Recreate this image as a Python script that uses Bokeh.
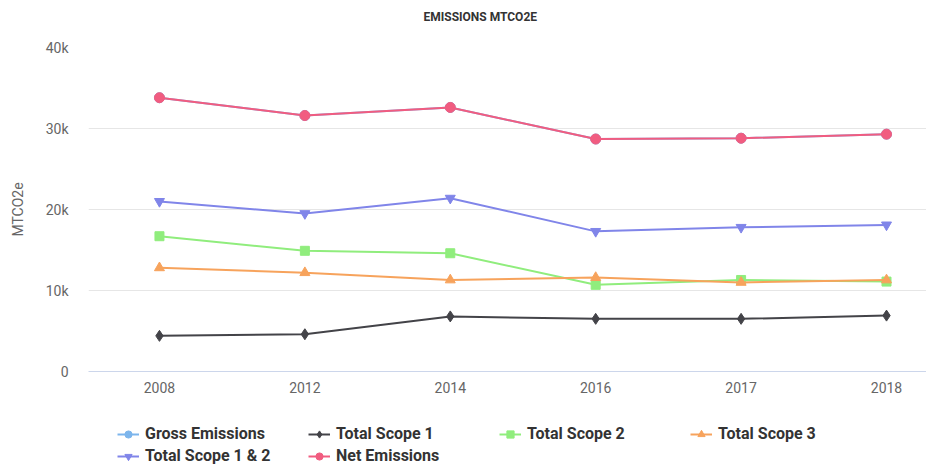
from bokeh.plotting import figure
from bokeh.models import Range1d, FixedTicker, Legend, LegendItem, Label
from bokeh.layouts import column
from bokeh.embed import file_html
from bokeh.resources import INLINE

years = ["2008", "2012", "2014", "2016", "2017", "2018"]
gross_emissions = [33800, 31600, 32600, 28700, 28800, 29300]
total_scope_1 = [4400, 4600, 6800, 6500, 6500, 6900]
total_scope_2 = [16700, 14900, 14600, 10700, 11300, 11100]
total_scope_3 = [12800, 12200, 11300, 11600, 11000, 11300]
total_scope_1_2 = [21000, 19500, 21400, 17300, 17800, 18100]
net_emissions = [33800, 31600, 32600, 28700, 28800, 29300]
y_ticks = [0, 10000, 20000, 30000, 40000]
y_tick_labels = ["0", "10k", "20k", "30k", "40k"]
chart_title = "EMISSIONS MTCO2E"

FONT = "Roboto"
xs = list(range(len(years)))
W = 926


def strip(height):
    f = figure(width=W, height=height, output_backend="svg", toolbar_location=None,
               x_range=Range1d(0, W - 88), y_range=Range1d(0, height),
               x_axis_type=None, y_axis_type=None,
               min_border_left=88, min_border_right=0, min_border_top=0, min_border_bottom=0)
    f.outline_line_color = None
    f.xgrid.grid_line_color = None
    f.ygrid.grid_line_color = None
    f.background_fill_color = "white"
    f.border_fill_color = "white"
    return f


# title strip
p0 = strip(30)
p0.add_layout(Label(x=335, y=14, text=chart_title, text_font=FONT,
                    text_font_size="12px", text_font_style="bold", text_color="#333333",
                    text_align="left", text_baseline="middle"))

# main chart
p = figure(width=W, height=370, output_backend="svg", toolbar_location=None,
           x_range=Range1d(-0.488, 5.275), y_range=Range1d(0, 40000),
           min_border_left=88, min_border_right=0, min_border_top=17, min_border_bottom=29)
p.outline_line_color = None
p.background_fill_color = "white"
p.border_fill_color = "white"

p.xaxis.ticker = FixedTicker(ticks=xs)
p.xaxis.major_label_overrides = {i: y for i, y in enumerate(years)}
p.xaxis.axis_line_color = "#ccd6eb"
p.xaxis.major_tick_line_color = None
p.xaxis.major_tick_out = 0
p.xaxis.major_tick_in = 0
p.xaxis.minor_tick_line_color = None
p.xaxis.major_label_text_font = FONT
p.xaxis.major_label_text_font_size = "14px"
p.xaxis.major_label_text_color = "#666666"
p.xaxis.major_label_standoff = 10

p.yaxis.ticker = FixedTicker(ticks=y_ticks)
p.yaxis.major_label_overrides = {t: l for t, l in zip(y_ticks, y_tick_labels)}
p.yaxis.axis_line_color = None
p.yaxis.major_tick_line_color = None
p.yaxis.major_tick_out = 0
p.yaxis.major_tick_in = 0
p.yaxis.minor_tick_line_color = None
p.yaxis.major_label_text_font = FONT
p.yaxis.major_label_text_font_size = "14px"
p.yaxis.major_label_text_color = "#666666"
p.yaxis.major_label_standoff = 20
p.yaxis.axis_label = "MTCO2e"
p.yaxis.axis_label_text_font = FONT
p.yaxis.axis_label_text_font_size = "14px"
p.yaxis.axis_label_text_font_style = "normal"
p.yaxis.axis_label_text_color = "#666666"
p.yaxis.axis_label_standoff = 17

p.xgrid.grid_line_color = None
p.ygrid.grid_line_color = "#e6e6e6"
p.ygrid.ticker = FixedTicker(ticks=y_ticks)

series = [
    ("Gross Emissions", gross_emissions, "#7cb5ec", "circle", 10),
    ("Total Scope 1", total_scope_1, "#434348", "diamond", 11),
    ("Total Scope 2", total_scope_2, "#90ed7d", "square", 9),
    ("Total Scope 3", total_scope_3, "#f7a35c", "triangle", 10),
    ("Total Scope 1 & 2", total_scope_1_2, "#8085e9", "inverted_triangle", 10),
    ("Net Emissions", net_emissions, "#f15c80", "circle", 10),
]

# legend strip below the chart (same series; its view window holds only the legend)
p2 = strip(65)
p2.x_range = Range1d(-100, -99)
p2.y_range = Range1d(-100, -99)

items = []
for name, vals, color, marker, size in series:
    p.line(xs, vals, line_color=color, line_width=2)
    p.scatter(xs, vals, marker=marker, size=size, fill_color=color, line_color=color)
    l2 = p2.line(xs, vals, line_color=color, line_width=2)
    s2 = p2.scatter(xs, vals, marker=marker, size=size - 1, fill_color=color, line_color=color)
    items.append(LegendItem(label=name, renderers=[l2, s2]))

legend = Legend(items=items, orientation="horizontal", ncols=4,
                location=(29, 0), margin=0, padding=0,
                glyph_width=22, glyph_height=18, label_height=18, label_width=160,
                label_standoff=6, spacing=3,
                label_text_font=FONT, label_text_font_size="16px",
                label_text_font_style="bold", label_text_color="#333333",
                border_line_color=None, background_fill_alpha=0)
p2.add_layout(legend, "center")

open("out.html", "w").write(file_html(column(p0, p, p2), INLINE))
